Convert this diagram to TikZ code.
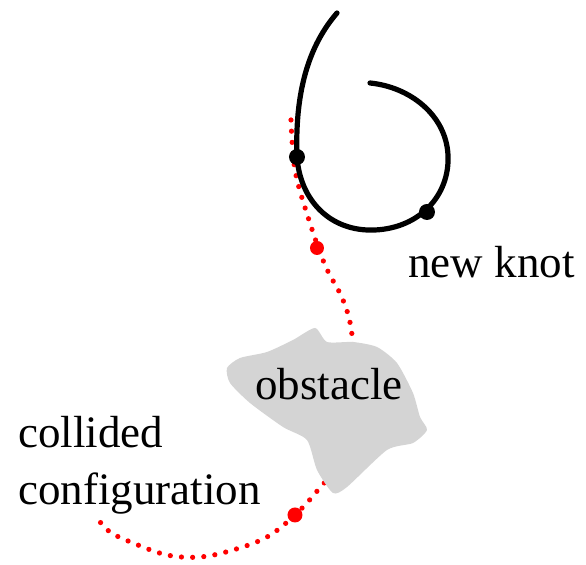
\documentclass[tikz,border=0pt]{standalone}
\usepackage{fontspec}
\setmainfont{Liberation Serif}
\definecolor{obsgray}{RGB}{212,212,212}
\tikzset{
  knot/.style={line width=2.6pt,line cap=round},
  trail/.style={red,line width=2.6pt,line cap=round,dash pattern=on 0pt off 5.6pt},
  label/.style={anchor=base west,inner sep=0pt,font=\fontsize{22.5}{28}\selectfont}
}
\begin{document}
\begin{tikzpicture}[x=0.5pt,y=-0.5pt]
\useasboundingbox (0,0) rectangle (586,565);
% dotted path of the configuration, partly under the obstacle
\draw[trail] plot[smooth,tension=0.6] coordinates {(291,120) (295,170) (308,217) (325,265) (343,300) (352,335) (355,400) (340,460) (318,490) (295,515) (267,537) (233,550) (200,557) (167,555) (133,543) (110,532) (97,518)};
% obstacle
\fill[obsgray] plot[smooth cycle,tension=0.4] coordinates {(227,368) (240,358) (267,352) (293,340) (315,328) (327,342) (353,342) (377,347) (397,363) (413,393) (420,417) (427,430) (413,443) (387,450) (347,487) (333,493) (317,470) (307,440) (283,427) (250,403) (230,383)};
\node[label] (obs) at (255,400) {obstacle};
% the knot curve
\draw[knot] (337,13) .. controls (305,50) and (295,100) .. (297,157)
  .. controls (300,200) and (330,232) .. (375,230)
  .. controls (420,228) and (450,195) .. (448,155)
  .. controls (446,115) and (410,87) .. (370,83);
\fill (297,157) circle (8);
\fill (427,212) circle (8);
\fill[red] (317,248) circle (7);
\fill[red] (295,515) circle (7.5);
\node[label] (knot) at (408,278) {new knot};
\node[label] (coll) at (18,448) {collided};
\node[label] (conf) at (18,505) {configuration};
\end{tikzpicture}
\end{document}
